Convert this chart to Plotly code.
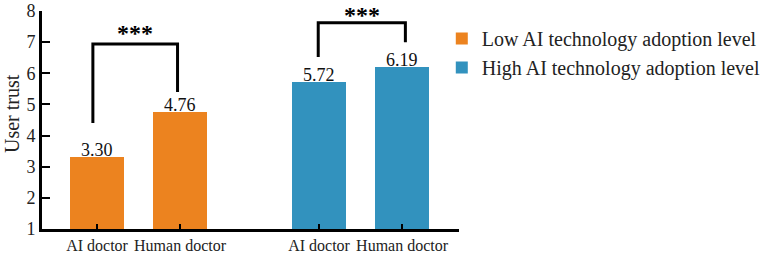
import plotly.graph_objects as go

# ---- data ----
groups = ["Low AI technology adoption level", "High AI technology adoption level"]
categories = ["AI doctor", "Human doctor"]
low_values = [3.30, 4.76]
high_values = [5.72, 6.19]
y_ticks = [1, 2, 3, 4, 5, 6, 7, 8]
significance = ["***", "***"]

# ---- style ----
FONT = "Liberation Serif"
ORANGE = "#EC831F"
BLUE = "#3292BE"
low_x = [0.0, 1.0]
high_x = [2.675, 3.675]
BAR_W = 0.65
Y_MIN, Y_MAX = 1, 8

fig = go.Figure()
for xs, vals, name, col in [(low_x, low_values, groups[0], ORANGE),
                            (high_x, high_values, groups[1], BLUE)]:
    fig.add_trace(go.Bar(
        x=xs, y=vals, width=BAR_W, name=name,
        marker=dict(color=col, line=dict(width=0)),
    ))
    for x, v in zip(xs, vals):
        fig.add_annotation(x=x, y=v, xref="x", yref="y", text=f"{v:.2f}", showarrow=False,
                           yanchor="bottom", yshift=-5,
                           font=dict(family=FONT, size=18, color="#111"))

# significance brackets: (x_left, x_right, left_end, right_end, top, star_y)
brackets = [
    (low_x[0] - 0.05, low_x[1] - 0.03, low_values[0] + 1.10, low_values[1] + 0.64, 6.94, 7.74, significance[0]),
    (high_x[0] - 0.01, high_x[1] + 0.04, high_values[0] + 0.80, high_values[1] + 0.81, 7.62, 8.32, significance[1]),
]
for xl, xr, yl, yr, top, sy, txt in brackets:
    fig.add_shape(type="path", xref="x", yref="y",
                  path=f"M {xl},{yl} L {xl},{top} L {xr},{top} L {xr},{yr}",
                  line=dict(color="black", width=3))
    fig.add_annotation(x=(xl + xr) / 2, y=(sy - Y_MIN) / (Y_MAX - Y_MIN), xref="x", yref="paper",
                       text=f"<b>{txt}</b>",
                       showarrow=False, font=dict(family=FONT, size=24, color="black"),
                       yanchor="top", borderpad=0)

# y-axis title
fig.add_annotation(x=-30 / 417, y=0.5275, xref="paper", yref="paper", text="User trust",
                   textangle=-90, showarrow=False, xanchor="center", yanchor="middle",
                   font=dict(family=FONT, size=20, color="#222"))

fig.update_layout(
    width=767, height=258,
    margin=dict(l=42, r=308, t=11, b=29, autoexpand=False),
    paper_bgcolor="white", plot_bgcolor="white",
    bargap=0, showlegend=True,
    font=dict(family=FONT, color="#222"),
    legend=dict(x=0.576, y=0.926, xref="container", yref="container", xanchor="left", yanchor="top",
                font=dict(family=FONT, size=20, color="#222"),
                bgcolor="rgba(0,0,0,0)", itemwidth=30),
)
fig.update_xaxes(
    range=[-0.663, 4.361], tickvals=low_x + high_x, ticktext=categories + categories,
    tickangle=0, automargin=False,
    showline=True, linecolor="black", linewidth=3, ticks="inside", ticklen=5, tickwidth=2,
    tickcolor="black", showgrid=False, zeroline=False,
    tickfont=dict(family=FONT, size=16, color="#222"),
)
fig.update_yaxes(
    range=[Y_MIN, Y_MAX], tickvals=y_ticks, showline=True, linecolor="black", linewidth=3,
    automargin=False,
    ticks="inside", ticklen=8, tickwidth=2, tickcolor="black", showgrid=False, zeroline=False,
    tickfont=dict(family=FONT, size=18, color="#222"),
)

fig.write_html("out.html")
